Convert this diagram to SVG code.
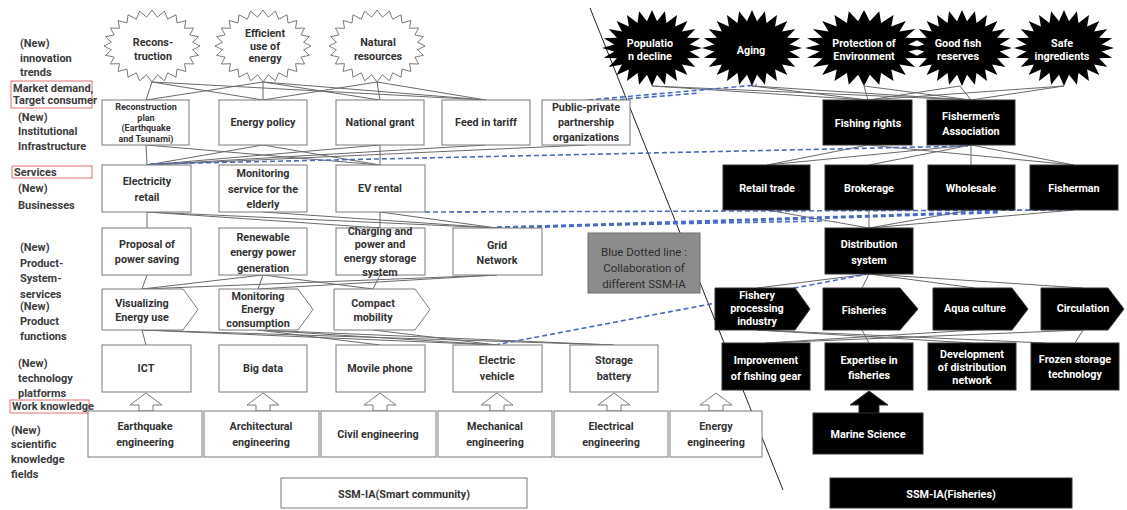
<svg xmlns="http://www.w3.org/2000/svg" width="1127" height="510" viewBox="0 0 1127 510">
<style>
text{font-family:Roboto,"Open Sans","Liberation Sans",sans-serif;font-weight:bold;font-size:10.8px;text-anchor:middle}
.lab{fill:#3c3c3c;text-anchor:start;font-size:11px}
.wb{fill:#fff;stroke:#7a7a7a;stroke-width:1}
.wt{fill:#333}
.bb{fill:#000;stroke:#333;stroke-width:1}
.bt{fill:#fff}
.red{fill:none;stroke:#e07070;stroke-width:1}
.ln{stroke:#6a6a6a;stroke-width:1;fill:none}
.dash{stroke:#4a6cc0;stroke-width:1.6;stroke-dasharray:5 3;fill:none}
.dash2{stroke:#4a6cc0;stroke-width:3;stroke-dasharray:5 3;fill:none}
.div{stroke:#222;stroke-width:1}
.gray{fill:#8c8c8c;stroke:#6e6e6e;stroke-width:1}
.gt{fill:#2e2e2e;font-weight:normal;font-size:11.5px}
.sm{font-size:9px}
</style>
<defs>
<polygon id="starW" points="48,0 40.6,3.8 46.4,9.3 37.9,11.1 41.6,18 32.5,17.7 33.9,25.5 25,23 24,31.2 15.7,26.8 12.4,34.8 5.4,28.8 0,36 -5.4,28.8 -12.4,34.8 -15.7,26.8 -24,31.2 -25,23 -33.9,25.5 -32.5,17.7 -41.6,18 -37.9,11.1 -46.4,9.3 -40.6,3.8 -48,0 -40.6,-3.8 -46.4,-9.3 -37.9,-11.1 -41.6,-18 -32.5,-17.7 -33.9,-25.5 -25,-23 -24,-31.2 -15.7,-26.8 -12.4,-34.8 -5.4,-28.8 0,-36 5.4,-28.8 12.4,-34.8 15.7,-26.8 24,-31.2 25,-23 33.9,-25.5 32.5,-17.7 41.6,-18 37.9,-11.1 46.4,-9.3 40.6,-3.8"/>
<polygon id="starB" points="50,0 37.7,3.5 48.3,9.8 35.1,10.3 43.3,19 30.1,16.4 35.4,26.9 23.1,21.4 25,32.9 14.5,24.9 12.9,36.7 5,26.8 0,38 -5,26.8 -12.9,36.7 -14.5,24.9 -25,32.9 -23.1,21.4 -35.4,26.9 -30.1,16.4 -43.3,19 -35.1,10.3 -48.3,9.8 -37.7,3.5 -50,0 -37.7,-3.5 -48.3,-9.8 -35.1,-10.3 -43.3,-19 -30.1,-16.4 -35.4,-26.9 -23.1,-21.4 -25,-32.9 -14.5,-24.9 -12.9,-36.7 -5,-26.8 0,-38 5,-26.8 12.9,-36.7 14.5,-24.9 25,-32.9 23.1,-21.4 35.4,-26.9 30.1,-16.4 43.3,-19 35.1,-10.3 48.3,-9.8 37.7,-3.5"/>
</defs>
<rect width="1127" height="510" fill="#fff"/>

<!-- divider -->
<line class="div" x1="590" y1="8" x2="783" y2="490"/>

<!-- row labels -->
<g id="labels">
<text class="lab" x="20" y="47">(New)</text>
<text class="lab" x="20" y="62">innovation</text>
<text class="lab" x="20" y="76">trends</text>
<rect class="red" x="11" y="81" width="81" height="27"/>
<text class="lab" x="13" y="92" font-size="9.8">Market  demand,</text>
<text class="lab" x="13" y="104" font-size="9.8">Target consumer</text>
<text class="lab" x="18" y="121">(New)</text>
<text class="lab" x="18" y="135">Institutional</text>
<text class="lab" x="18" y="150">Infrastructure</text>
<rect class="red" x="12" y="166" width="80" height="12"/>
<text class="lab" x="14" y="176">Services</text>
<text class="lab" x="18" y="192">(New)</text>
<text class="lab" x="18" y="209">Businesses</text>
<text class="lab" x="20" y="251">(New)</text>
<text class="lab" x="20" y="267">Product-</text>
<text class="lab" x="20" y="282">System-</text>
<text class="lab" x="20" y="298">services</text>
<text class="lab" x="20" y="310">(New)</text>
<text class="lab" x="20" y="325">Product</text>
<text class="lab" x="20" y="340">functions</text>
<text class="lab" x="18" y="367">(New)</text>
<text class="lab" x="18" y="382">technology</text>
<text class="lab" x="18" y="397">platforms</text>
<rect class="red" x="10" y="400" width="79" height="13"/>
<text class="lab" x="12" y="410" font-size="10.2">Work knowledge</text>
<text class="lab" x="11" y="434">(New)</text>
<text class="lab" x="11" y="448">scientific</text>
<text class="lab" x="11" y="463">knowledge</text>
<text class="lab" x="11" y="478">fields</text>
</g>

<!-- connectors -->
<g id="connectors">
<path class="ln" d="M152,82 L146,100 M152,82 L263,100 M152,82 L486,100 M263,82 L146,100 M263,82 L263,100 M263,82 L380,100 M263,82 L486,100 M377,82 L263,100 M377,82 L380,100 M377,82 L486,100"/>
<path class="ln" d="M146,145 L147,165 M263,145 L147,165 M263,145 L380,165 M146,145 L380,165 M380,145 L380,165 M380,145 L147,165 M486,145 L147,165 M586,145 L147,165"/>
<path class="ln" d="M147,212 L147,228 M147,212 L497,228 M263,212 L497,228 M380,212 L380,228 M380,212 L497,228 M147,212 L380,228"/>
<path class="ln" d="M147,275 L142,289 M263,275 L142,289 M263,275 L258,289 M263,275 L373,289 M380,275 L373,289 M497,275 L142,289 M497,275 L258,289"/>
<path class="ln" d="M142,330 L146,345 M142,330 L497,345 M142,330 L614,345 M258,330 L614,345 M258,330 L497,345 M373,330 L497,345 M258,330 L380,345"/>
<path class="ln" d="M652,86 L868,100 M652,86 L971,100 M752,86 L868,100 M752,86 L971,100 M864,86 L868,100 M864,86 L971,100 M960,86 L971,100 M960,86 L868,100 M1064,86 L868,100 M1064,86 L971,100"/>
<path class="ln" d="M971,145 L767,165 M971,145 L869,165 M971,145 L971,165 M971,145 L1074,165 M868,145 L767,165 M868,145 L1074,165"/>
<path class="ln" d="M767,210 L869,228 M869,210 L869,228 M971,210 L869,228 M1074,210 L869,228"/>
<path class="ln" d="M869,274 L757,288 M869,274 L862,288 M869,274 L975,288 M869,274 L1083,288"/>
<path class="ln" d="M862,330 L869,343 M975,330 L766,343 M1083,330 L1075,343 M1083,330 L766,343 M757,330 L1045,343 M757,330 L972,343"/>
<path class="dash" d="M588,100 L757,85 M588,102 L700,93"/>
<path class="dash" d="M150,164 L968,146"/>
<path class="dash" d="M425,212 L1070,210"/>
<path class="dash2" d="M497,228 L1000,212"/>
<path class="dash" d="M497,227 L826,221"/>
<path class="dash" d="M495,345 L868,274"/>
</g>

<!-- left stars -->
<g id="star-reconstruction"><use href="#starW" class="wb" transform="translate(152,46)"/><text class="wt" x="153" y="46">Recons-</text><text class="wt" x="153" y="60">truction</text></g>
<g id="star-efficient"><use href="#starW" class="wb" transform="translate(263,46)"/><text class="wt" x="265" y="37">Efficient</text><text class="wt" x="265" y="50">use of</text><text class="wt" x="265" y="62">energy</text></g>
<g id="star-natural"><use href="#starW" class="wb" transform="translate(377,46)"/><text class="wt" x="378" y="46">Natural</text><text class="wt" x="378" y="60">resources</text></g>

<!-- right stars -->
<g id="star-population"><use href="#starB" fill="#000" transform="translate(652,48)"/><text class="bt" x="650" y="47">Populatio</text><text class="bt" x="650" y="60">n decline</text></g>
<g id="star-aging"><use href="#starB" fill="#000" transform="translate(752,48)"/><text class="bt" x="751" y="54">Aging</text></g>
<g id="star-protection"><use href="#starB" fill="#000" transform="translate(864,48) scale(1.18,1)"/><text class="bt" x="864" y="47">Protection of</text><text class="bt" x="864" y="60">Environment</text></g>
<g id="star-goodfish"><use href="#starB" fill="#000" transform="translate(962,48)"/><text class="bt" x="958" y="47">Good fish</text><text class="bt" x="958" y="60">reserves</text></g>
<g id="star-safe"><use href="#starB" fill="#000" transform="translate(1064,48)"/><text class="bt" x="1062" y="47">Safe</text><text class="bt" x="1062" y="60">ingredients</text></g>

<!-- left row 1 -->
<g id="reconstruction-plan"><rect class="wb" x="102" y="100" width="87" height="45"/><text class="wt sm" x="146" y="110">Reconstruction</text><text class="wt sm" x="146" y="120.6">plan</text><text class="wt sm" x="146" y="131.2">(Earthquake</text><text class="wt sm" x="146" y="141.8">and Tsunami)</text></g>
<g id="energy-policy"><rect class="wb" x="219" y="100" width="88" height="45"/><text class="wt" x="263" y="126">Energy policy</text></g>
<g id="national-grant"><rect class="wb" x="336" y="100" width="88" height="45"/><text class="wt" x="380" y="126">National  grant</text></g>
<g id="feed-in-tariff"><rect class="wb" x="442" y="100" width="88" height="45"/><text class="wt" x="486" y="126">Feed in tariff</text></g>
<g id="public-private"><rect class="wb" x="542" y="100" width="88" height="45"/><text class="wt" x="586" y="111">Public-private</text><text class="wt" x="586" y="126">partnership</text><text class="wt" x="586" y="141">organizations</text></g>

<!-- left row 2 -->
<g id="electricity-retail"><rect class="wb" x="102" y="165" width="89" height="47"/><text class="wt" x="147" y="185">Electricity</text><text class="wt" x="147" y="201">retail</text></g>
<g id="monitoring-service"><rect class="wb" x="219" y="165" width="88" height="47"/><text class="wt" x="263" y="177">Monitoring</text><text class="wt" x="263" y="193">service for the</text><text class="wt" x="263" y="208">elderly</text></g>
<g id="ev-rental"><rect class="wb" x="336" y="165" width="89" height="47"/><text class="wt" x="380" y="192">EV rental</text></g>

<!-- left row 3 -->
<g id="proposal"><rect class="wb" x="102" y="228" width="89" height="47"/><text class="wt" x="147" y="248">Proposal  of</text><text class="wt" x="147" y="263">power saving</text></g>
<g id="renewable"><rect class="wb" x="219" y="228" width="88" height="47"/><text class="wt" x="263" y="241">Renewable</text><text class="wt" x="263" y="256">energy power</text><text class="wt" x="263" y="272">generation</text></g>
<g id="charging"><rect class="wb" x="336" y="228" width="89" height="47"/><text class="wt" x="380" y="235">Charging and</text><text class="wt" x="380" y="248">power and</text><text class="wt" x="380" y="262">energy storage</text><text class="wt" x="380" y="276">system</text></g>
<g id="grid-network"><rect class="wb" x="453" y="228" width="89" height="47"/><text class="wt" x="497" y="249">Grid</text><text class="wt" x="497" y="264">Network</text></g>

<!-- left row 4 (functions) -->
<g id="visualizing"><polygon class="wb" points="102,289 183,289 198,309.5 183,330 102,330"/><text class="wt" x="142" y="307">Visualizing</text><text class="wt" x="142" y="321">Energy use</text></g>
<g id="monitoring-energy"><polygon class="wb" points="219,289 298,289 313,309.5 298,330 219,330"/><text class="wt" x="258" y="300">Monitoring</text><text class="wt" x="258" y="313">Energy</text><text class="wt" x="258" y="327">consumption</text></g>
<g id="compact-mobility"><polygon class="wb" points="334,289 415,289 430,309.5 415,330 334,330"/><text class="wt" x="373" y="307">Compact</text><text class="wt" x="373" y="321">mobility</text></g>

<!-- left row 5 (platforms) -->
<g id="ict"><rect class="wb" x="102" y="345" width="89" height="47"/><text class="wt" x="146" y="372">ICT</text></g>
<g id="big-data"><rect class="wb" x="219" y="345" width="88" height="47"/><text class="wt" x="263" y="372">Big data</text></g>
<g id="movile-phone"><rect class="wb" x="336" y="345" width="89" height="47"/><text class="wt" x="380" y="372">Movile phone</text></g>
<g id="electric-vehicle"><rect class="wb" x="453" y="345" width="89" height="47"/><text class="wt" x="497" y="364">Electric</text><text class="wt" x="497" y="380">vehicle</text></g>
<g id="storage-battery"><rect class="wb" x="570" y="345" width="88" height="47"/><text class="wt" x="614" y="364">Storage</text><text class="wt" x="614" y="380">battery</text></g>

<!-- hollow up arrows -->
<g id="arrow-earthquake"><polygon class="wb" points="146,393 162,405 153,405 153,411 139,411 139,405 130,405"/></g>
<g id="arrow-architectural"><polygon class="wb" points="263,393 279,405 270,405 270,411 256,411 256,405 247,405"/></g>
<g id="arrow-civil"><polygon class="wb" points="380,393 396,405 387,405 387,411 373,411 373,405 364,405"/></g>
<g id="arrow-mechanical"><polygon class="wb" points="497,393 513,405 504,405 504,411 490,411 490,405 481,405"/></g>
<g id="arrow-electrical"><polygon class="wb" points="614,393 630,405 621,405 621,411 607,411 607,405 598,405"/></g>
<g id="arrow-energy"><polygon class="wb" points="716,393 732,405 723,405 723,411 709,411 709,405 700,405"/></g>

<!-- left row 6 (fields) -->
<g id="earthquake-eng"><rect class="wb" x="88" y="411" width="114" height="46"/><text class="wt" x="145" y="430">Earthquake</text><text class="wt" x="145" y="446">engineering</text></g>
<g id="architectural-eng"><rect class="wb" x="204" y="411" width="115" height="46"/><text class="wt" x="261" y="430">Architectural</text><text class="wt" x="261" y="446">engineering</text></g>
<g id="civil-eng"><rect class="wb" x="321" y="411" width="115" height="46"/><text class="wt" x="378" y="438">Civil engineering</text></g>
<g id="mechanical-eng"><rect class="wb" x="438" y="411" width="114" height="46"/><text class="wt" x="495" y="430">Mechanical</text><text class="wt" x="495" y="446">engineering</text></g>
<g id="electrical-eng"><rect class="wb" x="554" y="411" width="114" height="46"/><text class="wt" x="611" y="430">Electrical</text><text class="wt" x="611" y="446">engineering</text></g>
<g id="energy-eng"><rect class="wb" x="670" y="411" width="92" height="46"/><text class="wt" x="716" y="430">Energy</text><text class="wt" x="716" y="446">engineering</text></g>

<!-- right nodes -->
<g id="fishing-rights"><rect class="bb" x="823" y="100" width="89" height="45"/><text class="bt" x="868" y="127">Fishing rights</text></g>
<g id="fishermens-association"><rect class="bb" x="927" y="100" width="88" height="45"/><text class="bt" x="971" y="120">Fishermen's</text><text class="bt" x="971" y="135">Association</text></g>
<g id="retail-trade"><rect class="bb" x="723" y="165" width="87" height="45"/><text class="bt" x="767" y="192">Retail trade</text></g>
<g id="brokerage"><rect class="bb" x="825" y="165" width="88" height="45"/><text class="bt" x="869" y="192">Brokerage</text></g>
<g id="wholesale"><rect class="bb" x="928" y="165" width="87" height="45"/><text class="bt" x="971" y="192">Wholesale</text></g>
<g id="fisherman"><rect class="bb" x="1030" y="165" width="88" height="45"/><text class="bt" x="1074" y="192">Fisherman</text></g>
<g id="distribution-system"><rect class="bb" x="825" y="228" width="88" height="46"/><text class="bt" x="869" y="248">Distribution</text><text class="bt" x="869" y="264">system</text></g>
<g id="fishery-processing"><polygon class="bb" points="715,288 795,288 810,309 795,330 715,330"/><text class="bt" x="757" y="299">Fishery</text><text class="bt" x="757" y="312">processing</text><text class="bt" x="757" y="325">industry</text></g>
<g id="fisheries"><polygon class="bb" points="823,288 900,288 918,309 900,330 823,330"/><text class="bt" x="864" y="314">Fisheries</text></g>
<g id="aqua-culture"><polygon class="bb" points="933,288 1012,288 1028,309 1012,330 933,330"/><text class="bt" x="975" y="312">Aqua culture</text></g>
<g id="circulation"><polygon class="bb" points="1041,288 1108,288 1124,309 1108,330 1041,330"/><text class="bt" x="1083" y="312">Circulation</text></g>
<g id="improvement-gear"><rect class="bb" x="722" y="343" width="88" height="47"/><text class="bt" x="766" y="364">Improvement</text><text class="bt" x="766" y="380">of fishing gear</text></g>
<g id="expertise-fisheries"><rect class="bb" x="825" y="343" width="88" height="47"/><text class="bt" x="869" y="364">Expertise in</text><text class="bt" x="869" y="379">fisheries</text></g>
<g id="development-network"><rect class="bb" x="928" y="343" width="88" height="47"/><text class="bt" x="972" y="358">Development</text><text class="bt" x="972" y="371">of distribution</text><text class="bt" x="972" y="384">network</text></g>
<g id="frozen-storage"><rect class="bb" x="1031" y="343" width="88" height="47"/><text class="bt" x="1075" y="363">Frozen storage</text><text class="bt" x="1075" y="378">technology</text></g>
<g id="arrow-marine"><polygon class="bb" points="869,391 888,405 879,405 879,414 859,414 859,405 850,405"/></g>
<g id="marine-science"><rect class="bb" x="813" y="413" width="110" height="41"/><text class="bt" x="868" y="438">Marine Science</text></g>

<!-- legend -->
<g id="legend-collaboration"><rect class="gray" x="588" y="233" width="112" height="60"/><text class="gt" x="644" y="256">Blue Dotted line :</text><text class="gt" x="644" y="272">Collaboration of</text><text class="gt" x="644" y="288">different SSM-IA</text></g>

<!-- titles -->
<g id="title-smart"><rect class="wb" x="281" y="478" width="246" height="30"/><text class="wt" x="404" y="498" font-size="12">SSM-IA(Smart community)</text></g>
<g id="title-fisheries"><rect class="bb" x="830" y="478" width="242" height="30"/><text class="bt" x="951" y="498" font-size="12">SSM-IA(Fisheries)</text></g>
</svg>
